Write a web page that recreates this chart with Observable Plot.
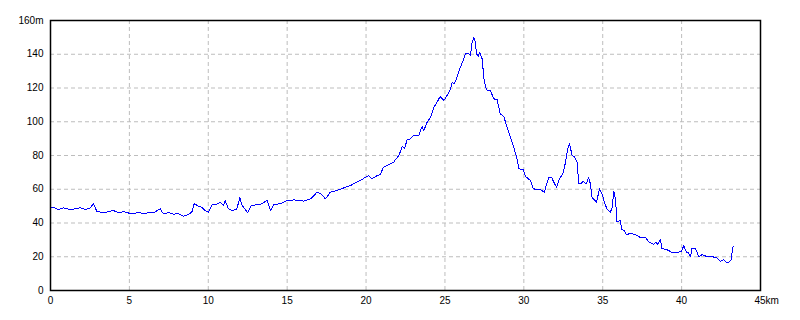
<!DOCTYPE html>
<html>
<head>
<meta charset="utf-8">
<script src="https://cdn.jsdelivr.net/npm/d3@7"></script>
<script src="https://cdn.jsdelivr.net/npm/@observablehq/plot@0.6"></script>
<style>
  html, body { margin: 0; padding: 0; background: #fff; }
  #chart svg { display: block; }
</style>
</head>
<body>
<div id="chart"></div>
<script>
// distance along course (km)
const distanceKm = [
  0.0, 0.3, 0.51, 0.82, 1.03, 1.35, 1.88, 2.2, 2.52, 2.72, 2.93, 3.36, 3.68, 3.99, 4.31, 4.63,
  4.99, 5.26, 5.58, 5.89, 6.21, 6.53, 6.95, 7.16, 7.48, 7.8, 8.11, 8.43, 8.75, 8.96, 9.1, 9.38,
  9.59, 9.8, 10.01, 10.22, 10.54, 10.75, 10.96, 11.07, 11.28, 11.5, 11.8, 12.0, 12.15, 12.5, 12.72,
  13.31, 13.73, 13.94, 14.15, 14.58, 15.0, 15.42, 16.05, 16.48, 16.9, 17.11, 17.43, 17.74, 18.17,
  18.59, 19.01, 19.4, 19.65, 19.96, 20.17, 20.38, 20.7, 20.91, 21.1, 21.44, 21.76, 21.9, 22.08,
  22.3, 22.44, 22.6, 22.77, 23.0, 23.34, 23.55, 23.66, 23.87, 24.1, 24.3, 24.5, 24.7, 24.93,
  25.14, 25.35, 25.46, 25.6, 25.77, 25.98, 26.2, 26.3, 26.51, 26.62, 26.72, 26.83, 26.93, 27.0,
  27.1, 27.2, 27.36, 27.46, 27.57, 27.7, 27.88, 28.1, 28.31, 28.5, 28.73, 28.94, 29.15, 29.36,
  29.57, 29.68, 29.95, 30.1, 30.42, 30.6, 31.01, 31.3, 31.58, 31.75, 31.9, 32.07, 32.21, 32.5,
  32.64, 32.78, 32.9, 33.06, 33.23, 33.38, 33.48, 33.63, 33.74, 33.97, 34.1, 34.22, 34.33, 34.47,
  34.6, 34.8, 34.96, 35.11, 35.28, 35.49, 35.6, 35.7, 35.81, 35.9, 36.12, 36.2, 36.38, 36.44,
  36.55, 36.76, 37.07, 37.35, 37.71, 37.9, 38.23, 38.34, 38.49, 38.66, 38.76, 38.97, 39.18,
  39.33, 39.71, 39.99, 40.14, 40.3, 40.45, 40.56, 40.66, 40.87, 40.98, 41.08, 41.3, 41.62,
  41.93, 42.25, 42.46, 42.67, 42.88, 43.13, 43.2, 43.26
];
// elevation (m)
const elevationM = [
  49.4, 48.8, 48.0, 49.0, 48.4, 48.0, 49.0, 48.0, 49.0, 51.4, 47.0, 46.0, 46.8, 47.4, 46.0, 46.7,
  45.8, 45.4, 46.5, 45.4, 46.2, 46.0, 48.4, 45.4, 46.2, 45.2, 45.6, 44.0, 45.0, 46.5, 51.4, 50.0,
  49.4, 47.4, 46.4, 50.6, 51.2, 52.2, 50.6, 53.2, 48.4, 47.4, 48.0, 54.9, 50.4, 46.0, 50.4,
  51.0, 53.3, 47.4, 51.0, 51.4, 53.3, 53.7, 53.0, 54.3, 58.3, 57.5, 54.3, 58.3, 59.3,
  60.8, 62.2, 64.2, 65.2, 67.1, 68.1, 66.2, 68.1, 68.8, 73.0, 74.7, 76.1, 78.0, 80.0,
  85.3, 84.0, 89.3, 89.7, 91.9, 91.9, 97.2, 94.8, 99.7, 102.7, 108.6, 111.6, 115.0, 112.6,
  115.6, 119.5, 123.4, 122.5, 126.4, 132.3, 137.3, 140.3, 140.3, 139.3, 147.2, 149.7, 147.2, 140.3,
  138.7, 140.9, 137.3, 126.4, 120.5, 118.5, 118.3, 113.6, 113.0, 104.7, 103.1, 96.8, 90.9, 84.9,
  78.0, 72.1, 71.8, 67.6, 65.2, 60.2, 59.9, 58.3, 67.2, 67.2, 64.2, 61.2, 65.2, 69.7,
  76.0, 84.0, 86.9, 80.0, 79.0, 76.0, 63.2, 63.2, 64.8, 63.2, 67.2, 63.2, 54.9, 53.9,
  52.3, 60.2, 57.3, 52.3, 48.0, 46.4, 49.4, 58.8, 54.3, 40.5, 41.5, 36.0, 35.6, 33.6,
  33.2, 33.9, 33.2, 31.6, 31.6, 29.0, 27.3, 28.6, 27.5, 30.0, 24.7, 24.5, 23.7,
  22.7, 22.7, 23.0, 26.7, 22.7, 22.2, 20.1, 25.1, 25.1, 22.7, 20.1, 21.2, 20.1,
  20.1, 19.2, 17.4, 18.2, 16.2, 17.8, 22.7, 26.1
];
const xTicks = [0, 5, 10, 15, 20, 25, 30, 35, 40];
const xLastTick = [45];
const yTicks = [0, 20, 40, 60, 80, 100, 120, 140, 160];
const xGrid = [5, 10, 15, 20, 25, 30, 35, 40];
const yGrid = [20, 40, 60, 80, 100, 120, 140];

const profile = distanceKm.map((d, i) => ({km: d, m: elevationM[i]}));

const chart = Plot.plot({
  width: 800,
  height: 320,
  marginLeft: 50,
  marginRight: 40,
  marginTop: 20,
  marginBottom: 30,
  style: {fontFamily: "'Liberation Sans', Arial, sans-serif", fontSize: "10px", color: "#000", background: "#fff"},
  x: {domain: [0, 45]},
  y: {domain: [0, 160]},
  marks: [
    Plot.gridX(xGrid, {stroke: "#bdbdbd", strokeOpacity: 1, strokeDasharray: "4,3"}),
    Plot.gridY(yGrid, {stroke: "#bdbdbd", strokeOpacity: 1, strokeDasharray: "4,3"}),
    Plot.line(profile, {x: "km", y: "m", stroke: "#0000ff", strokeWidth: 1, shapeRendering: "crispEdges"}),
    Plot.frame({stroke: "#000", strokeWidth: 1.5}),
    Plot.axisY(yTicks, {anchor: "left", tickSize: 0, tickPadding: 7, label: null, fill: "#000",
      tickFormat: d => d === 160 ? "160m" : String(d)}),
    Plot.axisX(xTicks, {anchor: "bottom", tickSize: 0, tickPadding: 6, label: null, fill: "#000",
      tickFormat: d => String(d)}),
    Plot.axisX(xLastTick, {anchor: "bottom", tickSize: 0, tickPadding: 6, label: null, fill: "#000",
      textAnchor: "start", dx: -6, tickFormat: d => d + "km"})
  ]
});
document.getElementById("chart").appendChild(chart);
</script>
</body>
</html>
